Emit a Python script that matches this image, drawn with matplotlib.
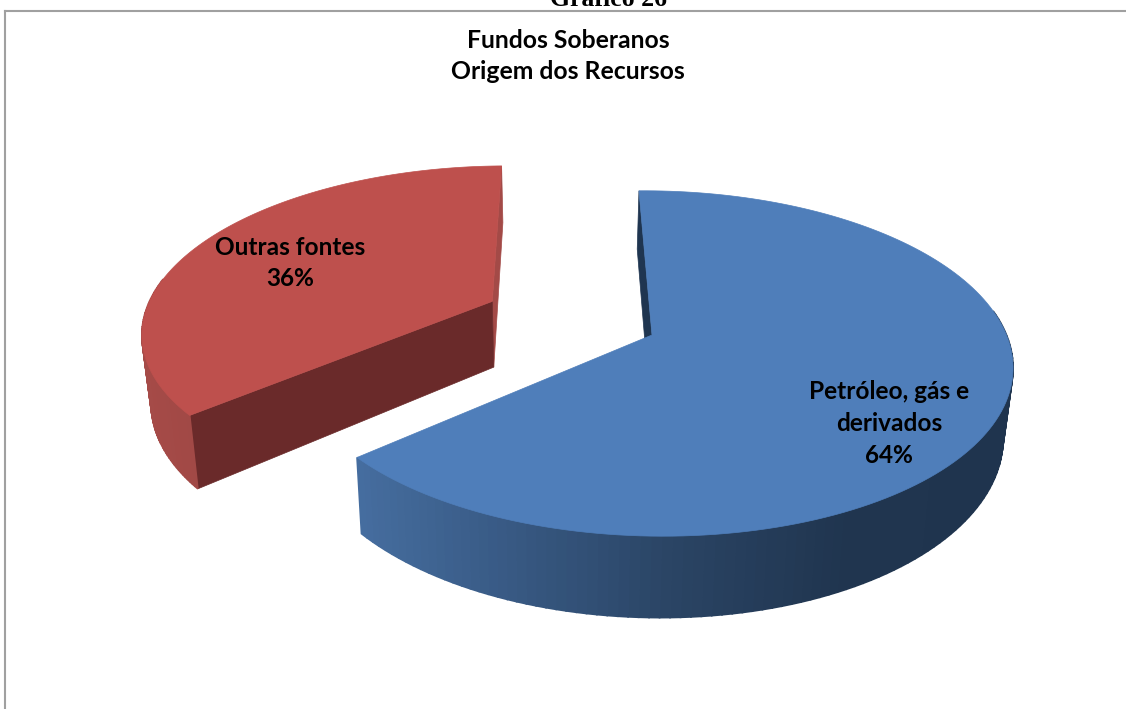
import matplotlib
matplotlib.use("Agg")
import matplotlib.pyplot as plt
import numpy as np

categories = ["Petróleo, gás e\nderivados", "Outras fontes"]
shares = [64, 36]
title = "Fundos Soberanos\nOrigem dos Recursos"
page_caption = "Gráfico 26"

top_colors = ["#4F7EBA", "#BE504D"]
start_angle = 91.0

plt.rcParams['font.family'] = ['Lato', 'DejaVu Sans']

fig = plt.figure(figsize=(11.26, 7.09), dpi=100)
ax = fig.add_axes([0, 0, 1, 1])
ax.set_xlim(0, 1126)
ax.set_ylim(709, 0)
ax.axis('off')


# perspective of the pie plane onto the picture
def project(x, y):
    w = 1 + 0.165 * y
    return 652 + (354.5 * x - 9 * y) / w, 335 - 168 * y / w


def project_low(x, y):
    # same point, at the bottom of the pie
    px, py = project(x, y)
    w = 1 + 0.165 * y
    return px + (560 - px) * 0.022, py + 68 / w


def rim(a, cx, cy):
    return cx + np.cos(np.radians(a)), cy + np.sin(np.radians(a))


def wall_color_blue(px):
    xs = [355, 500, 680, 850, 1013]
    rs = [70, 57, 42, 32, 31]
    gs = [110, 91, 68, 53, 52]
    bs = [160, 134, 100, 79, 78]
    return (np.interp(px, xs, rs) / 255, np.interp(px, xs, gs) / 255, np.interp(px, xs, bs) / 255)


def wall_color_red(px):
    return (np.interp(px, [140, 200], [166, 160]) / 255, np.interp(px, [140, 200], [75, 72]) / 255,
            np.interp(px, [140, 200], [72, 69]) / 255)


def draw_slice(a0, a1, cx, cy, color, wall_color, back_color, front_color, front_edge):
    angles = np.linspace(a0, a1, 160)
    rx, ry = rim(angles, cx, cy)
    tx, ty = project(rx, ry)
    bx, by = project_low(rx, ry)
    ax_top = project(cx, cy)
    ax_low = project_low(cx, cy)

    # wall under the radius that looks to the right, at the back
    ax.fill([tx[0], bx[0], ax_low[0], ax_top[0]], [ty[0], by[0], ax_low[1], ax_top[1]],
            color=back_color, lw=0.5, zorder=1)
    # front radial wall
    if front_edge:
        ax.fill([tx[-1], bx[-1], ax_low[0], ax_top[0]], [ty[-1], by[-1], ax_low[1], ax_top[1]],
                color=front_color, lw=0.5, zorder=1)
    # curved wall, in thin strips, front half only
    for i in range(len(angles) - 1):
        if ry[i] - cy > 0.15:
            continue
        c = wall_color(tx[i])
        ax.fill([tx[i], tx[i + 1], bx[i + 1], bx[i]], [ty[i], ty[i + 1], by[i + 1], by[i]],
                color=c, lw=1.2, zorder=2)
    # top face
    ax.fill(np.r_[ax_top[0], tx], np.r_[ax_top[1], ty], color=color, lw=0.5, zorder=3)


sweep = [s / sum(shares) * 360 for s in shares]
blue_end = start_angle - sweep[0]
red_mid = start_angle + sweep[1] / 2
explode = 0.505
red_cx = explode * np.cos(np.radians(red_mid))
red_cy = explode * np.sin(np.radians(red_mid))

# blue goes clockwise from the start angle
draw_slice(start_angle, blue_end, 0, 0, top_colors[0], wall_color_blue, "#1F3550", "#1F3550", False)
draw_slice(start_angle, start_angle + sweep[1], red_cx, red_cy, top_colors[1], wall_color_red,
           "#A34A47", "#6A2A2A", True)

# chart frame
ax.plot([5, 5], [709, 10.5], color="#A0A0A0", lw=1.5, zorder=5)
ax.plot([5, 1126], [10.5, 10.5], color="#A0A0A0", lw=1.5, zorder=5)

ax.text(608, 0, page_caption, family=['Liberation Serif'], fontweight='bold', fontsize=18.5,
        ha='center', va='center', color='black', zorder=6)
ax.text(568, 56, title, fontweight='bold', fontsize=17.8, ha='center', va='center',
        linespacing=1.47, color='black', zorder=6)
ax.text(889, 423.5, f"{categories[0]}\n{shares[0]}%", fontweight='bold', fontsize=17.6, ha='center',
        va='center', linespacing=1.46, color='black', zorder=6)
ax.text(290, 263, f"{categories[1]}\n{shares[1]}%", fontweight='bold', fontsize=17.6, ha='center',
        va='center', linespacing=1.47, color='black', zorder=6)

fig.savefig("out.png", dpi=100)
